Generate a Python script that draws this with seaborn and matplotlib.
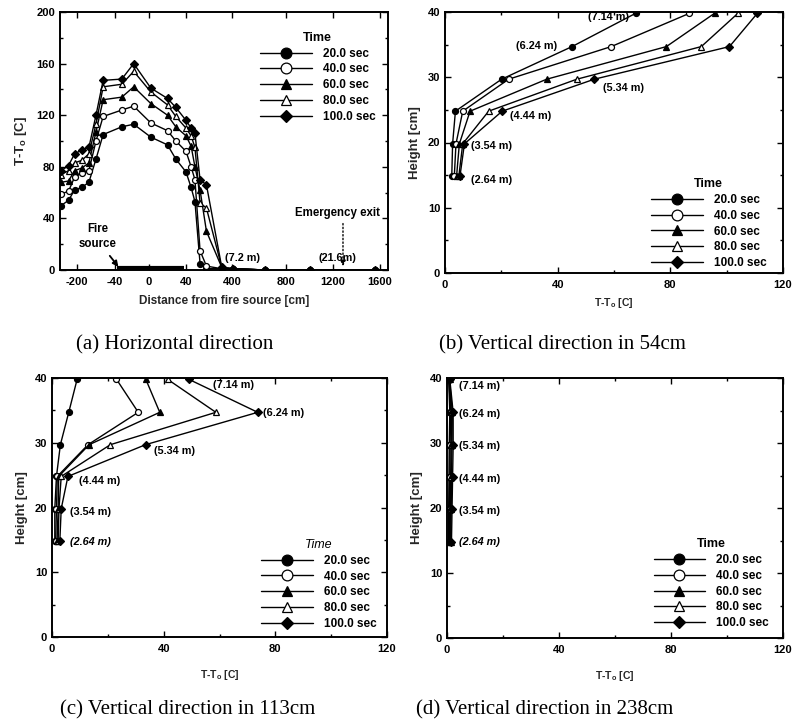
import numpy as np
import pandas as pd
import matplotlib
matplotlib.use("Agg")
import matplotlib.pyplot as plt
import seaborn as sns
from matplotlib.ticker import MultipleLocator, FixedLocator, NullLocator

# ---------------- data ----------------
TIMES = ["20.0 sec", "40.0 sec", "60.0 sec", "80.0 sec", "100.0 sec"]

# (a) horizontal direction
DIST_CM = [-265, -235, -210, -180, -150, -120, -90, -32, -18, 2, 20, 29, 40,
           80, 110, 150, 200, 320, 405, 645, 1005, 1555]
A_20 = [50, 54, 62, 64, 68, 86, 105, 111, 113, 103, 97, 86, 76, 64, 53, 5, 1, 1, 1, 0, 0, 0]
A_40 = [59, 61, 72, 75, 77, 100, 119, 124, 127, 114, 108, 100, 92, 80, 70, 15, 3, 1, 1, 0, 0, 0]
A_60 = [68, 69, 77, 79, 83, 107, 132, 134, 142, 129, 120, 111, 104, 96, 80, 62, 30, 2, 1, 0, 0, 0]
A_80 = [74, 77, 83, 85, 90, 113, 142, 144, 154, 138, 128, 119, 110, 104, 95, 52, 48, 2, 1, 0, 0, 0]
A_100 = [77, 81, 90, 93, 95, 120, 147, 148, 160, 141, 133, 126, 116, 110, 106, 70, 66, 2, 1, 0, 0, 0]
A_TICKS = [-200, -40, 0, 40, 400, 800, 1200, 1600]
# piecewise (broken) distance axis: breakpoints in cm and their relative screen positions
A_BRK_CM = [-270, -200, -40, 0, 40, 400, 800, 1200, 1600, 1670]
A_BRK_POS = [60, 77, 115, 149, 186, 232, 286, 333, 380, 388]

# (b)-(d) vertical profiles
HEIGHTS = [14.8, 19.8, 24.8, 29.7, 34.7, 39.8]
POS_LABELS = ["(2.64 m)", "(3.54 m)", "(4.44 m)", "(5.34 m)", "(6.24 m)", "(7.14 m)"]

B_20 = [2.4, 2.7, 3.7, 20.1, 45.1, 67.7]
B_40 = [3.3, 3.9, 6.3, 22.6, 59.0, 86.8]
B_60 = [4.1, 5.1, 8.9, 36.1, 78.6, 95.7]
B_80 = [4.9, 6.3, 15.5, 46.8, 91.0, 104.0]
B_100 = [5.3, 6.9, 20.3, 53.0, 101.0, 110.9]
B_LABEL_X = [9.2, 9.2, 22.9, 56.0, 25.2, 50.7]
B_LABEL_Y = [14.3, 19.4, 24.1, 28.4, 34.8, 39.2]

C_20 = [1.0, 1.0, 1.6, 3.0, 6.0, 9.0]
C_40 = [1.3, 1.6, 1.9, 12.9, 30.9, 23.1]
C_60 = [1.8, 2.2, 2.4, 13.3, 38.6, 33.6]
C_80 = [2.2, 2.5, 3.3, 20.9, 58.7, 41.4]
C_100 = [2.8, 3.3, 5.7, 33.5, 73.7, 49.0]
C_LABEL_X = [6.3, 6.3, 9.6, 36.6, 75.7, 57.8]
C_LABEL_Y = [14.6, 19.3, 24.1, 28.8, 34.6, 38.9]

D_20 = [0.6, 0.6, 0.7, 0.8, 1.0, 0.6]
D_40 = [0.9, 0.9, 1.0, 1.1, 1.3, 0.7]
D_60 = [1.1, 1.2, 1.3, 1.5, 1.6, 0.8]
D_80 = [1.3, 1.5, 1.6, 1.8, 1.9, 0.9]
D_100 = [1.6, 1.8, 2.0, 2.2, 2.2, 1.0]
D_LABEL_X = [4.3, 4.3, 4.3, 4.3, 4.3, 4.3]
D_LABEL_Y = [14.7, 19.5, 24.5, 29.5, 34.4, 38.8]

MARKERS = ["o", "o", "^", "^", "D"]
FACES = ["black", "white", "black", "white", "black"]
MSIZES = [4.3, 4.3, 4.3, 4.3, 3.6]

# ---------------- style ----------------
sns.set_theme(style="ticks")
plt.rcParams["font.family"] = ["Liberation Sans", "DejaVu Sans"]
plt.rcParams["font.weight"] = "bold"
plt.rcParams["mathtext.default"] = "regular"
plt.rcParams["axes.linewidth"] = 1.4
plt.rcParams["axes.edgecolor"] = "black"
plt.rcParams["text.color"] = "black"

TICK_FS = 8
LAB_FS = 7.5
YLAB_FS = 9.5
LEG_FS = 8.5
ANN_FS = 7.8

fig = plt.figure(figsize=(7.94, 7.25), dpi=100)
W, H = 794.0, 725.0


def add_axes(l, t, r, b):
    return fig.add_axes([l / W, 1 - b / H, (r - l) / W, (b - t) / H])


ax_a = add_axes(60, 12, 388, 270)
ax_b = add_axes(445, 12, 783, 273)
ax_c = add_axes(52, 378, 387, 637)
ax_d = add_axes(447, 378, 783, 638)


def style_axes(ax):
    ax.tick_params(which="both", direction="in", top=True, right=True,
                   labelsize=TICK_FS, colors="black", width=1.0)
    ax.tick_params(which="major", length=4)
    ax.tick_params(which="minor", length=2.5)
    ax.tick_params(axis="x", pad=5)
    for lab in ax.get_xticklabels() + ax.get_yticklabels():
        lab.set_fontweight("bold")
    for s in ax.spines.values():
        s.set_visible(True)
        s.set_color("black")


def add_legend(ax, anchor, italic_title=False):
    handles, labels = ax.get_legend_handles_labels()
    leg = ax.legend(handles, labels, title="Time", loc="upper left",
                    bbox_to_anchor=anchor, frameon=False, fontsize=LEG_FS,
                    title_fontsize=LEG_FS + 0.5, handlelength=4.4,
                    handletextpad=0.9, labelspacing=0.32, borderpad=0.2,
                    markerscale=1.8)
    t = leg.get_title()
    t.set_fontweight("normal" if italic_title else "bold")
    if italic_title:
        t.set_fontstyle("italic")
    for tx in leg.get_texts():
        tx.set_fontweight("bold")
    return leg


# ---------------- (a) ----------------
def fwd(x):
    return np.interp(x, A_BRK_CM, A_BRK_POS)


def inv(x):
    return np.interp(x, A_BRK_POS, A_BRK_CM)


ax_a.set_xscale("function", functions=(fwd, inv))
A_SERIES = [A_20, A_40, A_60, A_80, A_100]
for name, vals, m, fc, ms in zip(TIMES, A_SERIES, MARKERS, FACES, MSIZES):
    sns.lineplot(x=DIST_CM, y=vals, sort=False, estimator=None, ax=ax_a,
                 color="black", linewidth=1.0, marker=m, markersize=ms,
                 markerfacecolor=fc, markeredgecolor="black",
                 markeredgewidth=0.9, label=name)
ax_a.set_xlim(A_BRK_CM[0], A_BRK_CM[-1])
ax_a.set_ylim(0, 200)
ax_a.xaxis.set_major_locator(FixedLocator(A_TICKS))
ax_a.xaxis.set_minor_locator(NullLocator())
ax_a.yaxis.set_major_locator(MultipleLocator(40))
ax_a.yaxis.set_minor_locator(MultipleLocator(20))
ax_a.set_xticks(A_TICKS)
ax_a.set_xticklabels([str(t) for t in A_TICKS])
ax_a.set_ylabel("T-T$_o$ [C]", fontsize=YLAB_FS, fontweight="bold", labelpad=5)
ax_a.set_xlabel("Distance from fire source [cm]", fontsize=LAB_FS + 1,
                fontweight="bold", labelpad=6)
style_axes(ax_a)
add_legend(ax_a, (0.585, 0.955))

# fire source bar and annotations
ax_a.hlines(1.5, -38, 38, color="black", linewidth=3.0)
ax_a.text(-112, 26, "Fire\nsource", ha="center", va="center",
          fontsize=ANN_FS + 0.5, fontweight="bold", linespacing=1.3)
ax_a.annotate("", xy=(-36, 2.5), xytext=(-62, 11),
              arrowprops=dict(arrowstyle="-|>", color="black", lw=1.3,
                              shrinkA=0, shrinkB=0, mutation_scale=8))
ax_a.text(1235, 44, "Emergency exit", ha="center", va="center",
          fontsize=ANN_FS + 0.5, fontweight="bold")
ax_a.annotate("", xy=(1285, 3), xytext=(1285, 36),
              arrowprops=dict(arrowstyle="-|>", color="black", lw=1.0,
                              linestyle=":", shrinkA=0, shrinkB=0,
                              mutation_scale=8))
ax_a.text(481, 9, "(7.2 m)", ha="center", va="center", fontsize=ANN_FS,
          fontweight="bold")
ax_a.text(1235, 9, "(21.6m)", ha="center", va="center", fontsize=ANN_FS,
          fontweight="bold")


# ---------------- vertical panels ----------------
def vertical_panel(ax, series, lab_x, lab_y, anchor, xpad, italic_title=False,
                   italic_last=False):
    for name, vals, m, fc, ms in zip(TIMES, series, MARKERS, FACES, MSIZES):
        sns.lineplot(x=vals, y=HEIGHTS, sort=False, estimator=None, ax=ax,
                     color="black", linewidth=1.0, marker=m, markersize=ms,
                     markerfacecolor=fc, markeredgecolor="black",
                     markeredgewidth=0.9, label=name)
    ax.set_xlim(0, 120)
    ax.set_ylim(0, 40)
    ax.xaxis.set_major_locator(MultipleLocator(40))
    ax.xaxis.set_minor_locator(MultipleLocator(20))
    ax.yaxis.set_major_locator(MultipleLocator(10))
    ax.yaxis.set_minor_locator(MultipleLocator(5))
    ax.set_xlabel("T-T$_o$ [C]", fontsize=LAB_FS, fontweight="bold", labelpad=xpad)
    ax.set_ylabel("Height [cm]", fontsize=YLAB_FS, fontweight="bold", labelpad=5)
    style_axes(ax)
    for i, (txt, x, y) in enumerate(zip(POS_LABELS, lab_x, lab_y)):
        st = "italic" if (italic_last and i == 0) else "normal"
        ax.text(x, y, txt, ha="left", va="center", fontsize=ANN_FS,
                fontweight="bold", fontstyle=st)
    add_legend(ax, anchor, italic_title)


vertical_panel(ax_b, [B_20, B_40, B_60, B_80, B_100], B_LABEL_X, B_LABEL_Y,
               (0.585, 0.395), xpad=4)
vertical_panel(ax_c, [C_20, C_40, C_60, C_80, C_100], C_LABEL_X, C_LABEL_Y,
               (0.60, 0.41), xpad=10, italic_title=True, italic_last=True)
vertical_panel(ax_d, [D_20, D_40, D_60, D_80, D_100], D_LABEL_X, D_LABEL_Y,
               (0.59, 0.415), xpad=10, italic_last=True)

# ---------------- captions ----------------
CAP_FS = 15
cap_kw = dict(ha="center", va="center", fontsize=CAP_FS,
              family=["Liberation Serif", "DejaVu Serif"], fontweight="normal")
fig.text(175 / W, 1 - 345 / H, "(a) Horizontal direction", **cap_kw)
fig.text(562 / W, 1 - 345 / H, "(b) Vertical direction in 54cm", **cap_kw)
fig.text(188 / W, 1 - 710 / H, "(c) Vertical direction in 113cm", **cap_kw)
fig.text(545 / W, 1 - 710 / H, "(d) Vertical direction in 238cm", **cap_kw)

fig.savefig("out.png", dpi=100, facecolor="white")
